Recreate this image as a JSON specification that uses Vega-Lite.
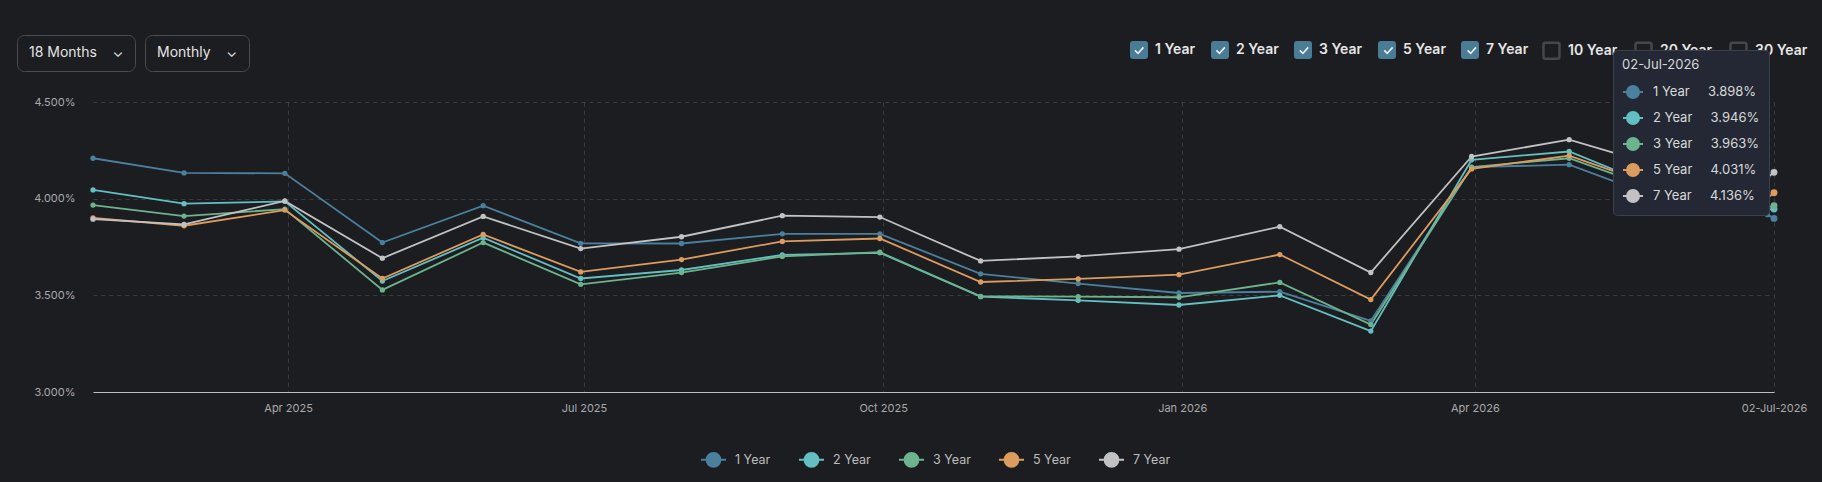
{
  "$schema": "https://vega.github.io/schema/vega-lite/v6.json",
  "width": 1681,
  "height": 290,
  "autosize": {"type": "none"},
  "padding": {"left": 93, "top": 102, "right": 48, "bottom": 90},
  "background": "#1c1d20",
  "config": {"view": {"stroke": null}, "font": "Inter"},
  "datasets": {
    "checked": [{"box": "1 Year"}, {"box": "2 Year"}, {"box": "3 Year"}, {"box": "5 Year"}, {"box": "7 Year"}],
    "unchecked": [{"box": "10 Year"}, {"box": "20 Year"}, {"box": "30 Year"}],
    "dd1": [{"dd": "18 Months\u00a0\u00a0\u00a0\u00a0⌄"}],
    "dd2": [{"dd": "Monthly\u00a0\u00a0\u00a0\u00a0⌄"}],
    "tip": [
      {"tip": "1 Year\u00a0\u00a0\u00a0\u00a0\u00a03.898%"},
      {"tip": "2 Year\u00a0\u00a0\u00a0\u00a0\u00a03.946%"},
      {"tip": "3 Year\u00a0\u00a0\u00a0\u00a0\u00a03.963%"},
      {"tip": "5 Year\u00a0\u00a0\u00a0\u00a0\u00a04.031%"},
      {"tip": "7 Year\u00a0\u00a0\u00a0\u00a0\u00a04.136%"}
    ]
  },
  "data": {
    "format": {"parse": {"date": "date:'%Y-%m-%d'"}},
    "values": [
      {"date": "2025-01-31", "tenor": "1 Year", "rate": 4.209},
      {"date": "2025-02-28", "tenor": "1 Year", "rate": 4.133},
      {"date": "2025-03-31", "tenor": "1 Year", "rate": 4.131},
      {"date": "2025-04-30", "tenor": "1 Year", "rate": 3.773},
      {"date": "2025-05-31", "tenor": "1 Year", "rate": 3.964},
      {"date": "2025-06-30", "tenor": "1 Year", "rate": 3.769},
      {"date": "2025-07-31", "tenor": "1 Year", "rate": 3.768},
      {"date": "2025-08-31", "tenor": "1 Year", "rate": 3.818},
      {"date": "2025-09-30", "tenor": "1 Year", "rate": 3.818},
      {"date": "2025-10-31", "tenor": "1 Year", "rate": 3.611},
      {"date": "2025-11-30", "tenor": "1 Year", "rate": 3.561},
      {"date": "2025-12-31", "tenor": "1 Year", "rate": 3.512},
      {"date": "2026-01-31", "tenor": "1 Year", "rate": 3.519},
      {"date": "2026-02-28", "tenor": "1 Year", "rate": 3.368},
      {"date": "2026-03-31", "tenor": "1 Year", "rate": 4.163},
      {"date": "2026-04-30", "tenor": "1 Year", "rate": 4.176},
      {"date": "2026-05-31", "tenor": "1 Year", "rate": 3.982},
      {"date": "2026-06-30", "tenor": "1 Year", "rate": 3.917},
      {"date": "2026-07-02", "tenor": "1 Year", "rate": 3.898},
      {"date": "2025-01-31", "tenor": "2 Year", "rate": 4.045},
      {"date": "2025-02-28", "tenor": "2 Year", "rate": 3.974},
      {"date": "2025-03-31", "tenor": "2 Year", "rate": 3.986},
      {"date": "2025-04-30", "tenor": "2 Year", "rate": 3.574},
      {"date": "2025-05-31", "tenor": "2 Year", "rate": 3.798},
      {"date": "2025-06-30", "tenor": "2 Year", "rate": 3.587},
      {"date": "2025-07-31", "tenor": "2 Year", "rate": 3.631},
      {"date": "2025-08-31", "tenor": "2 Year", "rate": 3.709},
      {"date": "2025-09-30", "tenor": "2 Year", "rate": 3.720},
      {"date": "2025-10-31", "tenor": "2 Year", "rate": 3.493},
      {"date": "2025-11-30", "tenor": "2 Year", "rate": 3.474},
      {"date": "2025-12-31", "tenor": "2 Year", "rate": 3.450},
      {"date": "2026-01-31", "tenor": "2 Year", "rate": 3.500},
      {"date": "2026-02-28", "tenor": "2 Year", "rate": 3.315},
      {"date": "2026-03-31", "tenor": "2 Year", "rate": 4.201},
      {"date": "2026-04-30", "tenor": "2 Year", "rate": 4.244},
      {"date": "2026-05-31", "tenor": "2 Year", "rate": 4.032},
      {"date": "2026-06-30", "tenor": "2 Year", "rate": 3.945},
      {"date": "2026-07-02", "tenor": "2 Year", "rate": 3.946},
      {"date": "2025-01-31", "tenor": "3 Year", "rate": 3.967},
      {"date": "2025-02-28", "tenor": "3 Year", "rate": 3.910},
      {"date": "2025-03-31", "tenor": "3 Year", "rate": 3.946},
      {"date": "2025-04-30", "tenor": "3 Year", "rate": 3.528},
      {"date": "2025-05-31", "tenor": "3 Year", "rate": 3.773},
      {"date": "2025-06-30", "tenor": "3 Year", "rate": 3.557},
      {"date": "2025-07-31", "tenor": "3 Year", "rate": 3.618},
      {"date": "2025-08-31", "tenor": "3 Year", "rate": 3.701},
      {"date": "2025-09-30", "tenor": "3 Year", "rate": 3.723},
      {"date": "2025-10-31", "tenor": "3 Year", "rate": 3.495},
      {"date": "2025-11-30", "tenor": "3 Year", "rate": 3.493},
      {"date": "2025-12-31", "tenor": "3 Year", "rate": 3.490},
      {"date": "2026-01-31", "tenor": "3 Year", "rate": 3.567},
      {"date": "2026-02-28", "tenor": "3 Year", "rate": 3.349},
      {"date": "2026-03-31", "tenor": "3 Year", "rate": 4.163},
      {"date": "2026-04-30", "tenor": "3 Year", "rate": 4.209},
      {"date": "2026-05-31", "tenor": "3 Year", "rate": 4.024},
      {"date": "2026-06-30", "tenor": "3 Year", "rate": 3.955},
      {"date": "2026-07-02", "tenor": "3 Year", "rate": 3.963},
      {"date": "2025-01-31", "tenor": "5 Year", "rate": 3.901},
      {"date": "2025-02-28", "tenor": "5 Year", "rate": 3.860},
      {"date": "2025-03-31", "tenor": "5 Year", "rate": 3.941},
      {"date": "2025-04-30", "tenor": "5 Year", "rate": 3.587},
      {"date": "2025-05-31", "tenor": "5 Year", "rate": 3.815},
      {"date": "2025-06-30", "tenor": "5 Year", "rate": 3.621},
      {"date": "2025-07-31", "tenor": "5 Year", "rate": 3.685},
      {"date": "2025-08-31", "tenor": "5 Year", "rate": 3.779},
      {"date": "2025-09-30", "tenor": "5 Year", "rate": 3.794},
      {"date": "2025-10-31", "tenor": "5 Year", "rate": 3.569},
      {"date": "2025-11-30", "tenor": "5 Year", "rate": 3.585},
      {"date": "2025-12-31", "tenor": "5 Year", "rate": 3.607},
      {"date": "2026-01-31", "tenor": "5 Year", "rate": 3.711},
      {"date": "2026-02-28", "tenor": "5 Year", "rate": 3.478},
      {"date": "2026-03-31", "tenor": "5 Year", "rate": 4.154},
      {"date": "2026-04-30", "tenor": "5 Year", "rate": 4.223},
      {"date": "2026-05-31", "tenor": "5 Year", "rate": 4.041},
      {"date": "2026-06-30", "tenor": "5 Year", "rate": 4.003},
      {"date": "2026-07-02", "tenor": "5 Year", "rate": 4.031},
      {"date": "2025-01-31", "tenor": "7 Year", "rate": 3.894},
      {"date": "2025-02-28", "tenor": "7 Year", "rate": 3.867},
      {"date": "2025-03-31", "tenor": "7 Year", "rate": 3.988},
      {"date": "2025-04-30", "tenor": "7 Year", "rate": 3.692},
      {"date": "2025-05-31", "tenor": "7 Year", "rate": 3.908},
      {"date": "2025-06-30", "tenor": "7 Year", "rate": 3.742},
      {"date": "2025-07-31", "tenor": "7 Year", "rate": 3.803},
      {"date": "2025-08-31", "tenor": "7 Year", "rate": 3.912},
      {"date": "2025-09-30", "tenor": "7 Year", "rate": 3.905},
      {"date": "2025-10-31", "tenor": "7 Year", "rate": 3.678},
      {"date": "2025-11-30", "tenor": "7 Year", "rate": 3.702},
      {"date": "2025-12-31", "tenor": "7 Year", "rate": 3.739},
      {"date": "2026-01-31", "tenor": "7 Year", "rate": 3.855},
      {"date": "2026-02-28", "tenor": "7 Year", "rate": 3.618},
      {"date": "2026-03-31", "tenor": "7 Year", "rate": 4.218},
      {"date": "2026-04-30", "tenor": "7 Year", "rate": 4.305},
      {"date": "2026-05-31", "tenor": "7 Year", "rate": 4.152},
      {"date": "2026-06-30", "tenor": "7 Year", "rate": 4.109},
      {"date": "2026-07-02", "tenor": "7 Year", "rate": 4.136}
    ]
  },
  "layer": [
    {
      "encoding": {
        "x": {
          "field": "date",
          "type": "temporal",
          "scale": {"domain": [{"year": 2025, "month": 1, "date": 31}, {"year": 2026, "month": 7, "date": 2}]},
          "axis": {
            "title": null,
            "values": [
              {"year": 2025, "month": 4, "date": 1},
              {"year": 2025, "month": 7, "date": 1},
              {"year": 2025, "month": 10, "date": 1},
              {"year": 2026, "month": 1, "date": 1},
              {"year": 2026, "month": 4, "date": 1},
              {"year": 2026, "month": 7, "date": 2}
            ],
            "labelExpr": "month(datum.value) == 6 && date(datum.value) == 2 ? timeFormat(datum.value, '%d-%b-%Y') : timeFormat(datum.value, '%b %Y')",
            "labelFlush": false,
            "labelOverlap": false,
            "ticks": false,
            "domain": true,
            "domainColor": "#bdbdbd",
            "domainWidth": 1,
            "labelColor": "#a9a9ab",
            "labelFontSize": 11,
            "labelPadding": 10,
            "grid": true,
            "gridColor": "#3c3d41",
            "gridDash": [4, 4],
            "gridWidth": 1
          }
        },
        "y": {
          "field": "rate",
          "type": "quantitative",
          "scale": {"domain": [3, 4.5], "nice": false, "zero": false},
          "axis": {
            "title": null,
            "values": [3, 3.5, 4, 4.5],
            "labelExpr": "format(datum.value, '.3f') + '%'",
            "domain": false,
            "ticks": false,
            "labelColor": "#a9a9ab",
            "labelFontSize": 11,
            "labelPadding": 18,
            "grid": true,
            "gridColor": "#3c3d41",
            "gridDash": [4, 4],
            "gridWidth": 1
          }
        },
        "color": {
          "field": "tenor",
          "type": "nominal",
          "scale": {
            "domain": ["1 Year", "2 Year", "3 Year", "5 Year", "7 Year"],
            "range": ["#4a809e", "#63bfc1", "#6cb38e", "#dd9c5f", "#c2c2c4"]
          },
          "legend": {
            "orient": "none",
            "legendX": 607,
            "legendY": 344,
            "direction": "horizontal",
            "columns": 5,
            "title": null,
            "symbolType": "M-1,0L-0.55,0M0.55,0L1,0M-0.55,0A0.55,0.55,0,1,1,0.55,0A0.55,0.55,0,1,1,-0.55,0Z",
            "symbolSize": 625,
            "symbolStrokeWidth": 2,
            "symbolOpacity": 1,
            "labelColor": "#bdbdbd",
            "labelFontSize": 12.5,
            "labelOffset": 8,
            "columnPadding": 24
          }
        }
      },
      "layer": [
        {"mark": {"type": "line", "strokeWidth": 1.8}},
        {
          "mark": {"type": "point", "filled": true, "opacity": 1},
          "encoding": {
            "size": {"condition": {"test": "month(datum.date) == 6 && date(datum.date) == 2", "value": 48}, "value": 28}
          }
        }
      ]
    },
    {
      "data": {"name": "checked"},
      "mark": {"type": "point", "opacity": 0},
      "encoding": {
        "fill": {
          "field": "box",
          "type": "nominal",
          "scale": {"domain": ["1 Year", "2 Year", "3 Year", "5 Year", "7 Year"], "range": ["#4a7c95"]},
          "legend": {
            "orient": "none",
            "legendX": 1037,
            "legendY": -61,
            "direction": "horizontal",
            "columns": 5,
            "title": null,
            "symbolType": "M-0.75,-1L0.75,-1Q1,-1,1,-0.75L1,0.75Q1,1,0.75,1L-0.75,1Q-1,1,-1,0.75L-1,-0.75Q-1,-1,-0.75,-1Z",
            "symbolSize": 256,
            "symbolStrokeWidth": 2,
            "symbolStrokeColor": "#4a7c95",
            "symbolOpacity": 1,
            "labelColor": "#e6e6e6",
            "labelFontSize": 14,
            "labelFontWeight": 600,
            "labelOffset": 7,
            "columnPadding": 12
          }
        }
      }
    },
    {
      "data": {"name": "checked"},
      "mark": {"type": "point", "opacity": 0, "color": "#eef2f4"},
      "encoding": {
        "shape": {
          "field": "box",
          "type": "nominal",
          "scale": {
            "domain": ["1 Year", "2 Year", "3 Year", "5 Year", "7 Year"],
            "range": ["M-1,-1M1,1M-0.5,0L-0.12,0.38L0.55,-0.38"]
          },
          "legend": {
            "orient": "none",
            "legendX": 1037,
            "legendY": -61,
            "direction": "horizontal",
            "columns": 5,
            "title": null,
            "symbolSize": 256,
            "symbolStrokeWidth": 1.6,
            "symbolStrokeColor": "#eef2f4",
            "symbolFillColor": "transparent",
            "symbolOpacity": 1,
            "labelColor": "transparent",
            "labelFontSize": 14,
            "labelFontWeight": 600,
            "labelOffset": 7,
            "columnPadding": 12.4
          }
        }
      }
    },
    {
      "data": {"name": "unchecked"},
      "mark": {"type": "point", "opacity": 0},
      "encoding": {
        "stroke": {
          "field": "box",
          "type": "nominal",
          "scale": {"domain": ["10 Year", "20 Year", "30 Year"], "range": ["#46474c"]},
          "legend": {
            "orient": "none",
            "legendX": 1449,
            "legendY": -61,
            "direction": "horizontal",
            "columns": 3,
            "title": null,
            "symbolType": "M-0.75,-1L0.75,-1Q1,-1,1,-0.75L1,0.75Q1,1,0.75,1L-0.75,1Q-1,1,-1,0.75L-1,-0.75Q-1,-1,-0.75,-1Z",
            "symbolSize": 256,
            "symbolStrokeWidth": 2.5,
            "symbolFillColor": "#1c1d20",
            "symbolOpacity": 1,
            "labelColor": "#e6e6e6",
            "labelFontSize": 14,
            "labelFontWeight": 600,
            "labelOffset": 7,
            "columnPadding": 12
          }
        }
      }
    },
    {
      "data": {"name": "dd1"},
      "mark": {"type": "point", "opacity": 0},
      "encoding": {
        "shape": {
          "field": "dd",
          "type": "nominal",
          "legend": {
            "orient": "none",
            "legendX": -76,
            "legendY": -67,
            "title": null,
            "symbolSize": 1,
            "symbolOpacity": 0,
            "symbolStrokeWidth": 0,
            "labelOffset": -13,
            "labelColor": "#e4e4e4",
            "labelFontSize": 14,
            "padding": 11,
            "strokeColor": "#4a4b50",
            "cornerRadius": 7
          }
        }
      }
    },
    {
      "data": {"name": "dd2"},
      "mark": {"type": "point", "opacity": 0},
      "encoding": {
        "shape": {
          "field": "dd",
          "type": "nominal",
          "legend": {
            "orient": "none",
            "legendX": 52,
            "legendY": -67,
            "title": null,
            "symbolSize": 1,
            "symbolOpacity": 0,
            "symbolStrokeWidth": 0,
            "labelOffset": -13,
            "labelColor": "#e4e4e4",
            "labelFontSize": 14,
            "padding": 11,
            "strokeColor": "#4a4b50",
            "cornerRadius": 7
          }
        }
      }
    },
    {
      "data": {"name": "tip"},
      "encoding": {
        "color": {
          "field": "tip",
          "type": "nominal",
          "scale": {"range": ["#4a809e", "#63bfc1", "#6cb38e", "#dd9c5f", "#c2c2c4"]},
          "legend": {
            "orient": "none",
            "legendX": 1520,
            "legendY": -52,
            "direction": "vertical",
            "title": "02-Jul-2026",
            "titleColor": "#d8d8d8",
            "titleFontSize": 13,
            "titleFontWeight": "normal",
            "titlePadding": 9,
            "fillColor": "#232834",
            "strokeColor": "#3a404c",
            "cornerRadius": 4,
            "padding": 9,
            "symbolType": "M-1,0L-0.6,0M0.6,0L1,0M-0.6,0A0.6,0.6,0,1,1,0.6,0A0.6,0.6,0,1,1,-0.6,0Z",
            "symbolSize": 400,
            "symbolStrokeWidth": 2,
            "symbolOpacity": 1,
            "labelColor": "#d8d8d8",
            "labelFontSize": 13,
            "labelOffset": 9,
            "rowPadding": 5
          }
        }
      },
      "layer": [
        {"mark": {"type": "line", "opacity": 0}},
        {"mark": {"type": "point", "filled": true, "opacity": 0}}
      ]
    }
  ],
  "resolve": {
    "scale": {"color": "independent", "shape": "independent"},
    "legend": {"color": "independent", "shape": "independent"}
  }
}
